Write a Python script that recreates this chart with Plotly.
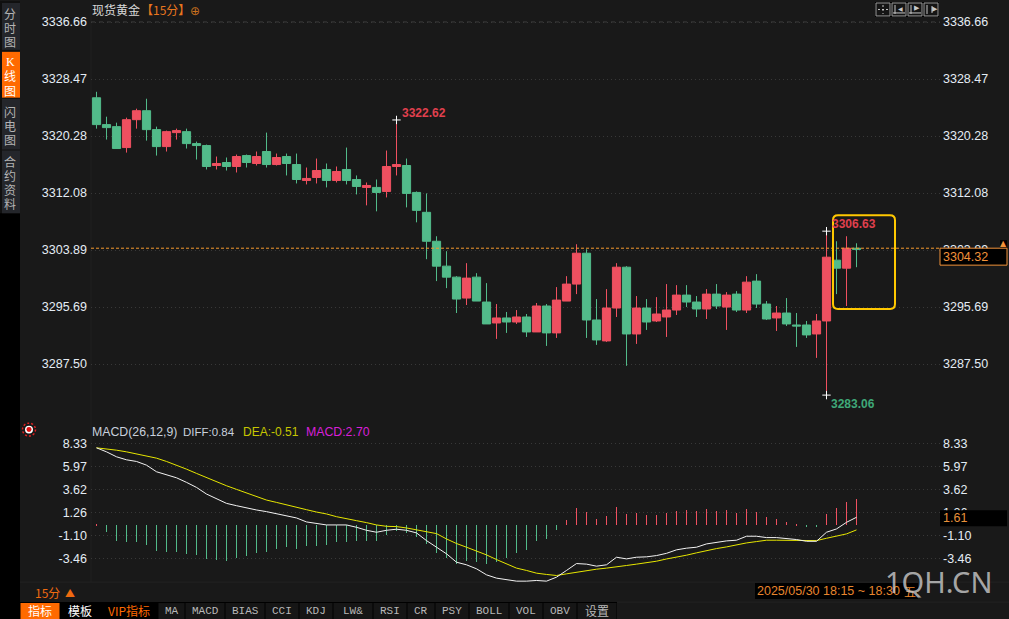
import plotly.graph_objects as go

W, H = 1009, 619
BG = "#191919"
RED = "#ef5060"
GREEN = "#52bb8a"

candle_open = [3325.81,3321.95,3321.66,3318.65,3322.66,3323.95,3321.23,3318.79,3320.80,3320.94,
3319.22,3318.94,3316.07,3316.50,3315.93,3317.50,3316.36,3318.08,3316.21,3317.36,
3316.21,3313.92,3314.35,3315.50,3313.92,3315.50,3314.06,3312.92,3312.92,3312.34,
3315.93,3316.07,3312.20,3309.34,3305.18,3301.60,3300.02,3297.01,3300.02,3296.44,
3293.43,3294.15,3293.57,3294.29,3292.14,3295.87,3292.00,3296.58,3299.02,3303.46,
3293.86,3290.85,3295.58,3301.45,3291.85,3295.58,3293.72,3294.29,3295.29,3297.44,
3296.44,3295.44,3297.58,3295.72,3297.58,3295.29,3299.45,3296.15,3294.15,3294.86,
3293.14,3293.14,3291.85,3293.72,3302.46,3301.31,3304.18]
candle_high = [3326.67,3323.09,3322.23,3322.95,3324.24,3325.67,3321.66,3321.09,3321.37,3321.37,
3319.51,3319.08,3317.36,3317.22,3317.65,3317.65,3318.08,3320.80,3317.79,3317.79,
3317.79,3315.78,3317.07,3316.36,3315.93,3318.65,3314.64,3313.63,3314.06,3318.22,
3322.62,3317.07,3312.34,3312.06,3305.90,3303.75,3300.16,3302.03,3300.59,3299.16,
3296.15,3295.01,3295.29,3294.72,3296.30,3296.15,3298.59,3300.16,3304.75,3304.03,
3296.87,3298.30,3302.03,3301.60,3297.30,3296.87,3297.15,3299.02,3298.87,3298.87,
3297.30,3298.30,3299.02,3297.87,3298.01,3300.16,3300.45,3296.58,3295.87,3297.01,
3294.86,3293.72,3294.72,3306.63,3305.18,3305.90,3304.89]
candle_low = [3321.37,3319.80,3318.51,3317.93,3321.37,3319.65,3317.50,3318.08,3319.80,3318.51,
3316.93,3315.50,3315.50,3315.35,3315.07,3315.78,3316.07,3315.78,3316.07,3314.64,
3313.49,3313.35,3313.49,3312.92,3313.63,3313.35,3311.91,3310.34,3309.48,3311.48,
3314.64,3310.05,3307.90,3302.60,3299.45,3298.44,3294.86,3296.01,3296.58,3293.29,
3291.14,3292.00,3293.29,3291.42,3292.14,3290.13,3291.28,3296.58,3297.58,3291.28,
3290.28,3290.71,3294.29,3287.27,3290.42,3292.43,3293.57,3291.42,3294.58,3295.72,
3294.29,3294.00,3295.44,3292.43,3295.01,3294.86,3295.58,3293.86,3292.28,3293.00,
3289.99,3291.28,3288.41,3283.06,3297.58,3295.87,3301.45]
candle_close = [3321.95,3321.52,3318.51,3322.66,3323.95,3321.23,3318.79,3320.94,3321.09,3319.22,
3318.94,3315.93,3316.36,3315.93,3317.36,3316.50,3317.36,3316.21,3317.22,3316.36,
3314.06,3314.21,3315.35,3313.92,3315.21,3313.92,3313.06,3313.20,3312.20,3315.93,
3316.21,3312.06,3309.62,3305.18,3301.60,3300.02,3296.87,3299.88,3296.58,3293.29,
3294.15,3293.57,3294.29,3292.14,3295.87,3292.00,3296.72,3299.02,3303.46,3293.86,
3290.99,3295.58,3301.45,3291.85,3295.58,3293.57,3294.72,3295.29,3297.44,3296.44,
3295.44,3297.58,3295.87,3297.44,3295.29,3299.30,3296.15,3294.00,3294.86,3293.29,
3293.00,3291.71,3293.72,3302.89,3301.31,3304.18,3304.03]

macd_hist = [0.05,-0.72,-1.64,-1.74,-1.74,-2.05,-2.67,-2.77,-2.77,-2.97,
-3.08,-3.49,-3.59,-3.69,-3.38,-3.18,-2.87,-2.77,-2.46,-2.26,
-2.46,-2.15,-2.15,-2.05,-1.74,-1.74,-1.64,-1.64,-1.64,-1.03,
-0.62,-0.82,-1.23,-1.95,-2.87,-3.38,-4.00,-3.69,-3.79,-4.00,
-3.79,-3.38,-2.87,-2.56,-1.64,-1.44,-0.51,0.51,1.74,1.33,
0.62,0.92,1.85,1.13,1.23,1.03,1.03,1.23,1.44,1.54,
1.44,1.64,1.44,1.54,1.23,1.64,1.33,0.82,0.62,0.31,
0.10,-0.20,-0.20,1.13,1.74,2.36,2.67]
diff_line = [7.93,7.52,7.01,6.70,6.53,6.15,5.47,5.13,4.85,4.38,
3.86,3.18,2.67,2.22,1.98,1.74,1.54,1.37,1.16,0.96,
0.72,0.31,0.17,0.0,0.0,0.0,-0.24,-0.55,-0.75,-0.55,
-0.44,-0.55,-0.82,-1.61,-2.29,-2.97,-3.83,-4.10,-4.51,-5.13,
-5.47,-5.64,-5.78,-5.78,-5.71,-5.78,-5.37,-4.68,-3.97,-4.03,
-4.24,-4.10,-3.32,-3.49,-3.32,-3.28,-3.15,-2.92,-2.56,-2.39,
-2.29,-1.95,-1.78,-1.64,-1.57,-1.16,-1.16,-1.30,-1.30,-1.40,
-1.50,-1.68,-1.68,-0.75,-0.41,0.27,0.79]
dea_line = [7.93,7.83,7.69,7.52,7.32,7.11,6.87,6.53,6.15,5.74,
5.30,4.85,4.41,4.03,3.66,3.28,2.94,2.56,2.32,2.05,
1.78,1.57,1.33,1.13,0.85,0.62,0.44,0.24,0.0,-0.14,
-0.17,-0.31,-0.48,-0.68,-0.89,-1.44,-1.91,-2.29,-2.67,-3.08,
-3.56,-4.03,-4.44,-4.68,-4.96,-5.09,-5.20,-5.03,-4.85,-4.68,
-4.55,-4.44,-4.27,-4.17,-4.03,-3.90,-3.73,-3.50,-3.32,-3.11,
-2.87,-2.63,-2.43,-2.26,-2.05,-1.85,-1.71,-1.57,-1.57,-1.57,
-1.61,-1.64,-1.61,-1.37,-1.16,-0.92,-0.51]

price_ticks = [3336.66,3328.47,3320.28,3312.08,3303.89,3295.69,3287.50]
macd_ticks = [8.33,5.97,3.62,1.26,-1.10,-3.46]
extreme_idx = [30, 73, 73]
extreme_val = [3322.62, 3306.63, 3283.06]
last_line = 3304.18
side_tabs = [("分时图", False), ("K线图", True), ("闪电图", False), ("合约资料", False)]
bottom_tabs = ["指标","模板","VIP指标","MA","MACD","BIAS","CCI","KDJ","LW&","RSI","CR","PSY","BOLL","VOL","OBV","设置"]
bottom_edges = [20,60,100,158,185,225,265,299,333,373,407,435,469,509,543,577,617]

xs = list(range(len(candle_open)))
X0, X1 = 91, 940
x_range = [(X0-96.5)/10, (X1-96.5)/10]
def px(x): return x / W
def py(y): return 1 - (y - 1) / H
CJK = "Noto Sans CJK SC"
LAT = "Liberation Sans"
TICK = "#e4ecf4"
NUM = 12.5

shapes, anns = [], []
def rect(x0, y0, x1, y1, fill=None, line=None, lw=1, layer="above"):
    shapes.append(dict(type="rect", xref="paper", yref="paper", x0=px(x0), x1=px(x1), y0=py(y0), y1=py(y1),
                       fillcolor=fill or "rgba(0,0,0,0)", line=dict(color=line or "rgba(0,0,0,0)", width=lw if line else 0), layer=layer))
def seg(x0, y0, x1, y1, color, lw=1, dash="solid", layer="above"):
    shapes.append(dict(type="line", xref="paper", yref="paper", x0=px(x0), x1=px(x1), y0=py(y0), y1=py(y1),
                       line=dict(color=color, width=lw, dash=dash), layer=layer))
def text(x, y, s, color, size=12, anchor="left", font=LAT):
    anns.append(dict(xref="paper", yref="paper", x=px(x), y=py(y), text=s, showarrow=False, xanchor=anchor, yanchor="middle",
                     font=dict(color=color, size=size, family=font), borderpad=0, borderwidth=0, align=anchor))

# frame
rect(0, 0, 20, H + 2, fill="#101010", layer="below")
rect(0, 213, 20, H + 2, fill="#000000", layer="below")
seg(91, 0, 91, 583, "#212121", layer="below")
seg(20, 583, W, 583, "#232323", layer="below")
seg(X0, 21, X1, 21, "#3c3c3c", dash="4px,4px", layer="below")

# left tabs
tab_y = [(2, 49), (51, 97), (98, 149), (150, 213)]
char_y = [[13, 27, 40.5], [61, 75, 90], [111, 125, 139], [161, 175, 189, 203]]
for (label, active), (y0, y1), ys in zip(side_tabs, tab_y, char_y):
    rect(2, y0, 20, y1, fill="#ff6a00" if active else "#24262b")
    for ch, yy in zip(label, ys):
        text(10, yy, ch, "#ffffff" if active else "#b4b4b4", 12, "center", CJK if ch != "K" else "Liberation Serif")

# bottom tabs
rect(0, 603, 617, H + 2, fill="#000000")
for i, label in enumerate(bottom_tabs):
    a, b = bottom_edges[i], bottom_edges[i + 1]
    rect(a + 0.5, 604, b - 0.5, H + 2, fill="#ff6a00" if i == 0 else ("#000000" if i < 3 else "#161616"))
    col = "#ffffff" if i < 2 else ("#ff6a00" if i == 2 else "#b8b8b8")
    is_cjk = label in ("指标", "模板", "设置")
    text((a + b) / 2, 611.5, label, col, 12 if is_cjk or i == 2 else 11, "center", CJK if is_cjk or i == 2 else "Liberation Mono")
seg(617, 603, W, 603, "#232323", layer="below")
text(35, 593.5, "15分", "#ee6a10", 12, "left", CJK)
text(65, 593, "▲", "#ee6a10", 10, "left", CJK)

# MACD indicator icon
shapes.append(dict(type="circle", xref="paper", yref="paper", x0=px(22.5), x1=px(35.5), y0=py(423.5), y1=py(436.5),
                   fillcolor="rgba(0,0,0,0)", line=dict(color="#e02020", width=1.5, dash="2px,2px"), layer="above"))
shapes.append(dict(type="circle", xref="paper", yref="paper", x0=px(25), x1=px(33), y0=py(426), y1=py(434),
                   fillcolor="#ffffff", line=dict(color="#ffffff", width=0), layer="above"))
shapes.append(dict(type="circle", xref="paper", yref="paper", x0=px(26.5), x1=px(31.5), y0=py(427.5), y1=py(432.5),
                   fillcolor="#e01010", line=dict(color="#e01010", width=0), layer="above"))

# title
text(92, 9, "现货黄金", "#d8d8d8", 12, "left", CJK)
text(141, 9, "【15分】", "#e8761e", 12, "left", CJK)
text(190, 10.5, "⊕", "#c8701e", 12, "left", "DejaVu Sans")

# MACD legend
text(92, 432.5, "MACD(26,12,9)", "#c8d0dc", 12.3)
text(183, 432.5, "DIFF:0.84", "#c8d0dc", 11.5)
text(243, 432.5, "DEA:-0.51", "#c6c600", 12)
text(306, 432.5, "MACD:2.70", "#d820d8", 12.3)

# toolbar icons
icon_x = [876, 892, 908, 924]
for ix in icon_x:
    rect(ix - 1, 1, ix + 15, 16, fill="#000000")
    rect(ix, 2, ix + 14, 15, fill="#151515", line="#9a9a9a")
seg(878, 8.5, 888, 8.5, "#c8c8c8", dash="2px,2px"); seg(883, 4, 883, 13, "#c8c8c8", dash="2px,2px")
for ix in icon_x[1:3]:
    seg(ix + 3, 4, ix + 3, 13, "#c8c8c8"); seg(ix + 1, 12, ix + 13, 12, "#c8c8c8")
text(898, 7.5, "◀", "#c8c8c8", 6, "left", "DejaVu Sans")
text(914, 7.5, "▶", "#c8c8c8", 7, "left", "DejaVu Sans")
seg(927, 4, 927, 13, "#c8c8c8"); seg(932, 5, 932, 12, "#c8c8c8")
text(932, 8, "▶", "#c8c8c8", 7, "left", "DejaVu Sans")

# current price
shapes.append(dict(type="line", xref="paper", yref="y", x0=px(X0), x1=px(X1), y0=last_line, y1=last_line,
                   line=dict(color="#f59a2e", width=1, dash="3px,2px"), layer="above"))
rect(1000, 240, 1007, 248, fill="#000000")
rect(940, 248, 1007, 265, fill="#000000", line="#f0923a")
text(943, 256.5, "3304.32", "#f0923a", NUM)
text(1003.5, 243.5, "▲", "#f0923a", 8, "center", "DejaVu Sans")
rect(940, 511, 1007, 527, fill="#000000")
text(943, 519, "1.61", "#e8913a", NUM)

# highlight box
xa, xb, ya, yb, r = 833, 895, 215, 309, 5
P = lambda x, y: f"{px(x):.5f},{py(y):.5f}"
path = (f"M {P(xa+r,ya)} L {P(xb-r,ya)} Q {P(xb,ya)} {P(xb,ya+r)} L {P(xb,yb-r)} Q {P(xb,yb)} {P(xb-r,yb)} "
        f"L {P(xa+r,yb)} Q {P(xa,yb)} {P(xa,yb-r)} L {P(xa,ya+r)} Q {P(xa,ya)} {P(xa+r,ya)} Z")
shapes.append(dict(type="path", xref="paper", yref="paper", path=path, line=dict(color="#ffc800", width=2), layer="above"))

# extremes labels
text(401.5, 112.5, "<b>3322.62</b>", "#e0404e", 12)
text(832, 223.5, "<b>3306.63</b>", "#e0404e", 12)
text(831, 404, "<b>3283.06</b>", "#3fa878", 12)

# date box and watermark
rect(755, 584, 918, 600, fill="#000000")
text(757, 592, "2025/05/30 18:15 ~ 18:30", "#e8862e", NUM)
text(904, 592, "五", "#e8862e", 12, "left", CJK)
text(885, 582, "1QH.CN", "rgba(205,205,205,0.8)", 29, "left", "Noto Sans")

hist_colors = [RED if v > 0 else GREEN for v in macd_hist]

fig = go.Figure()
fig.add_trace(go.Candlestick(x=xs, open=candle_open, high=candle_high, low=candle_low, close=candle_close,
    increasing=dict(line=dict(color=RED, width=1), fillcolor=RED),
    decreasing=dict(line=dict(color=GREEN, width=1), fillcolor=GREEN),
    whiskerwidth=0, xaxis="x", yaxis="y", showlegend=False, hoverinfo="skip"))
fig.add_trace(go.Scatter(x=extreme_idx, y=extreme_val, mode="markers", xaxis="x", yaxis="y",
    marker=dict(symbol="cross-thin", size=6, line=dict(color="#ffffff", width=1)), showlegend=False, hoverinfo="skip"))
fig.add_trace(go.Bar(x=xs, y=macd_hist, width=0.1, marker=dict(color=hist_colors, line=dict(width=0)),
    xaxis="x", yaxis="y2", showlegend=False, hoverinfo="skip"))
fig.add_trace(go.Scatter(x=xs, y=dea_line, mode="lines", line=dict(color="#e6e600", width=1), xaxis="x", yaxis="y2", showlegend=False, hoverinfo="skip"))
fig.add_trace(go.Scatter(x=xs, y=diff_line, mode="lines", line=dict(color="#f2f2f2", width=1), xaxis="x", yaxis="y2", showlegend=False, hoverinfo="skip"))
# carriers for the right hand axes
fig.add_trace(go.Scatter(x=[0], y=[price_ticks[0]], mode="lines", xaxis="x", yaxis="y3", showlegend=False, hoverinfo="skip"))
fig.add_trace(go.Scatter(x=[0], y=[macd_ticks[0]], mode="lines", xaxis="x", yaxis="y4", showlegend=False, hoverinfo="skip"))

price_range = [3279.53, 3339.58]
macd_range = [-5.88, 8.78]
tf = dict(color=TICK, size=NUM, family=LAT)
def yax(vals, rng, dom, side, grid, standoff, shift=0, **kw):
    return dict(range=rng, domain=dom, side=side, tickmode="array", tickvals=vals, ticktext=[f"{v:.2f}" for v in vals],
                tickfont=tf, showgrid=grid, gridcolor="#383838", griddash="1px,3px", gridwidth=1, zeroline=False,
                showline=False, ticks="", fixedrange=True, ticklabelstandoff=standoff, ticklabelshift=shift, **kw)
fig.update_layout(
    width=W, height=H, margin=dict(l=0, r=0, t=0, b=0, pad=0), autosize=False,
    paper_bgcolor=BG, plot_bgcolor=BG, bargap=0, boxgap=0.1, boxgroupgap=0.09, showlegend=False, hovermode=False,
    xaxis=dict(domain=[px(X0), px(X1)], range=x_range, visible=False, rangeslider=dict(visible=False), fixedrange=True, anchor="y"),
    yaxis=yax(price_ticks, price_range, [py(420), py(1)], "left", True, 3, shift=-1, anchor="x"),
    yaxis2=yax(macd_ticks, macd_range, [py(583), py(440)], "left", True, 3, anchor="x"),
    yaxis3=yax(price_ticks, price_range, [py(420), py(1)], "right", False, 2, shift=-1, anchor="x", overlaying="y"),
    yaxis4=yax(macd_ticks, macd_range, [py(583), py(440)], "right", False, 2, anchor="x", overlaying="y2"),
    shapes=shapes, annotations=anns,
    font=dict(family=LAT),
)
fig.write_html("out.html", config=dict(displayModeBar=False),
               post_script="document.body.style.margin='0';document.body.style.background='#191919';document.body.style.overflow='hidden';")
